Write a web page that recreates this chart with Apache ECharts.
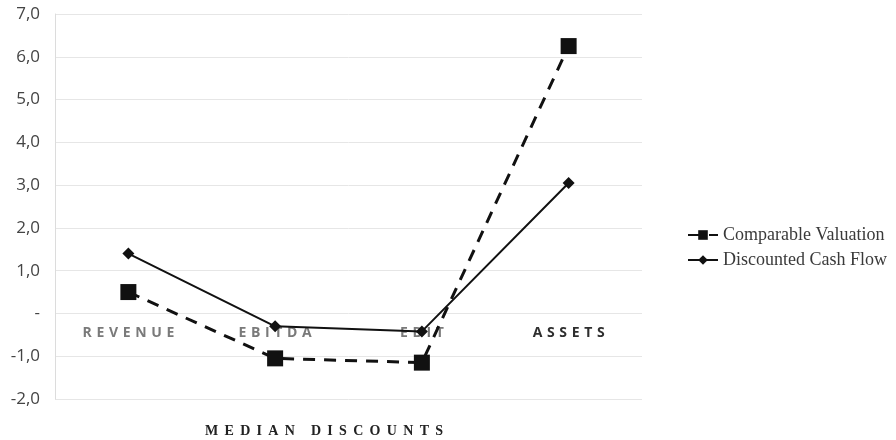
<!DOCTYPE html>
<html>
<head>
<meta charset="utf-8">
<script src="https://cdn.jsdelivr.net/npm/echarts@6/dist/echarts.min.js"></script>
<style>
  html, body { margin: 0; padding: 0; background: #fff; }
  #chart { width: 896px; height: 440px; }
</style>
</head>
<body>
<div id="chart"></div>
<script>
// categories along the x axis
const categories = ['REVENUE', 'EBITDA', 'EBIT', 'ASSETS'];
// median discounts per method
const comparableValuation = [0.5, -1.05, -1.15, 6.25];
const discountedCashFlow = [1.4, -0.3, -0.42, 3.05];
const seriesNames = ['Comparable Valuation', 'Discounted Cash Flow'];
const xTitle = 'MEDIAN DISCOUNTS';

// spread letters a bit, like the original letter-spaced labels
const spread = (s, gap) => s.split('').join(gap);

const chart = echarts.init(document.getElementById('chart'));

chart.setOption({
  backgroundColor: '#fff',
  animation: false,
  grid: { left: 55, right: 254, top: 14, bottom: 41, outerBoundsMode: 'none' },
  legend: {
    orient: 'vertical',
    left: 682,
    top: 221,
    itemWidth: 30,
    itemHeight: 12,
    itemGap: 7,
    textStyle: { fontFamily: 'Liberation Serif', fontSize: 18, color: '#3a3a3a' },
    data: seriesNames
  },
  xAxis: {
    type: 'category',
    data: categories,
    // category labels sit just under the zero line, as in the original
    offset: -85,
    axisLine: { show: false },
    axisTick: { show: false },
    axisLabel: {
      margin: 12,
      fontFamily: 'Open Sans',
      fontWeight: 'bold',
      fontSize: 14,
      formatter: v => spread(v, '\u2009\u2009'),
      color: (v, i) => (i === 3 ? '#2e2e2e' : '#7a7a7a')
    }
  },
  yAxis: {
    type: 'value',
    min: -2,
    max: 7,
    interval: 1,
    axisLine: { show: true, lineStyle: { color: '#dcdcdc' } },
    axisTick: { show: false },
    splitLine: { lineStyle: { color: '#e6e6e6', width: 1 } },
    axisLabel: {
      margin: 15,
      fontFamily: 'Open Sans',
      fontSize: 17,
      color: '#444',
      formatter: v => (v === 0 ? '-' : v.toFixed(1).replace('.', ','))
    }
  },
  graphic: [{
    type: 'text',
    style: {
      text: spread(xTitle, '\u2005\u2009'),
      fontFamily: 'Liberation Serif',
      fontWeight: 'bold',
      fontSize: 14,
      fill: '#222'
    },
    left: 205,
    top: 424
  }],
  series: [
    {
      name: seriesNames[0],
      type: 'line',
      data: comparableValuation,
      symbol: 'rect',
      symbolSize: 16,
      itemStyle: { color: '#111' },
      lineStyle: { color: '#111', width: 3, type: [12, 9] }
    },
    {
      name: seriesNames[1],
      type: 'line',
      data: discountedCashFlow,
      symbol: 'diamond',
      symbolSize: 12,
      itemStyle: { color: '#111' },
      lineStyle: { color: '#111', width: 2 }
    }
  ]
});
</script>
</body>
</html>
